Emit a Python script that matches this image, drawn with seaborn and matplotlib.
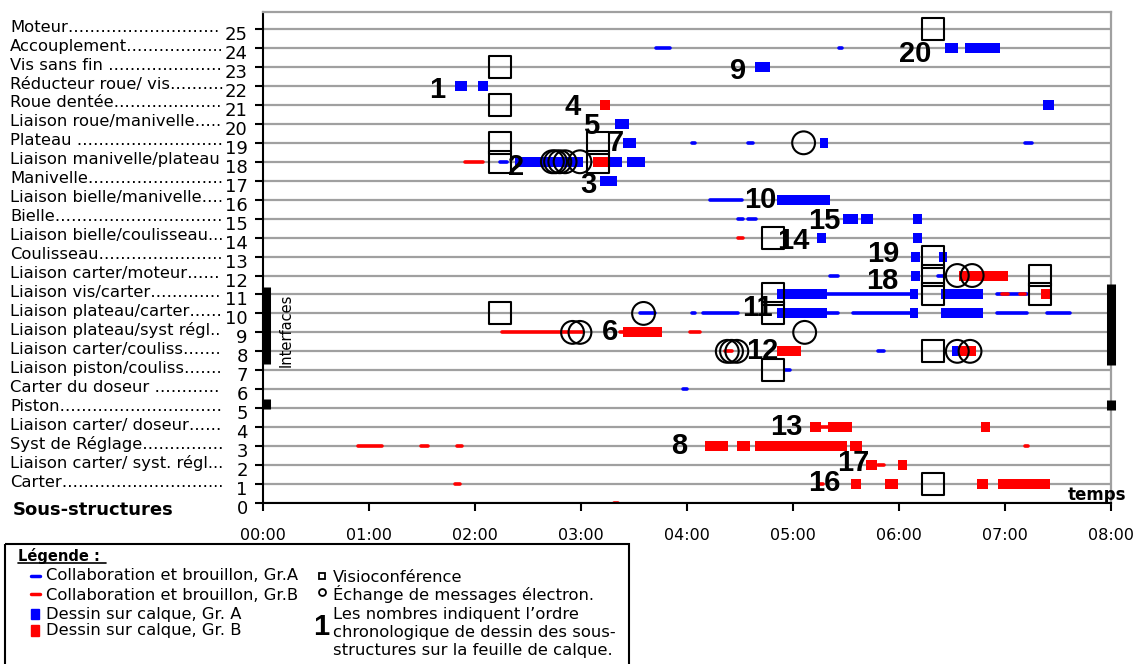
import matplotlib
matplotlib.use("Agg")
import matplotlib.pyplot as plt
import seaborn as sns
import pandas as pd
from matplotlib.patches import Rectangle
from matplotlib.transforms import blended_transform_factory, ScaledTranslation

# Sub-structures, row 1 .. 25
row_numbers = list(range(1, 26))
row_names = ["Carter", "Liaison carter/ syst. régl", "Syst de Réglage", "Liaison carter/ doseur",
             "Piston", "Carter du doseur ", "Liaison piston/couliss", "Liaison carter/couliss",
             "Liaison plateau/syst régl", "Liaison plateau/carter", "Liaison vis/carter",
             "Liaison carter/moteur", "Coulisseau", "Liaison bielle/coulisseau",
             "Bielle", "Liaison bielle/manivelle", "Manivelle", "Liaison manivelle/plateau",
             "Plateau ", "Liaison roue/manivelle", "Roue dentée", "Réducteur roue/ vis",
             "Vis sans fin ", "Accouplement", "Moteur"]

hours = [0, 1, 2, 3, 4, 5, 6, 7, 8]
hour_labels = ["00:00", "01:00", "02:00", "03:00", "04:00", "05:00", "06:00", "07:00", "08:00"]

# (row, start hour, end hour)
collab_a = [(24, 3.71, 3.84), (24, 5.43, 5.46), (19, 4.05, 4.08), (19, 4.58, 4.62),
            (19, 7.19, 7.25), (18, 2.24, 2.30), (16, 4.22, 4.52), (15, 4.48, 4.53),
            (15, 4.58, 4.65), (12, 5.35, 5.42), (12, 6.37, 6.43), (11, 5.32, 6.10),
            (11, 6.92, 7.21), (10, 3.56, 3.70), (10, 4.05, 4.08), (10, 4.15, 4.48),
            (10, 5.32, 5.42), (10, 5.57, 6.10), (10, 6.92, 7.21), (10, 7.40, 7.61),
            (8, 5.80, 5.86), (7, 4.92, 4.97), (6, 3.96, 4.00)]
collab_b = [(18, 1.91, 2.08), (14, 4.48, 4.53), (11, 6.97, 7.03), (11, 7.14, 7.19),
            (9, 2.25, 3.02), (9, 3.37, 3.41), (9, 4.03, 4.12), (8, 4.36, 4.42),
            (4, 5.26, 5.33), (3, 0.90, 1.12), (3, 1.49, 1.56), (3, 1.83, 1.88),
            (3, 7.19, 7.22), (2, 5.80, 5.86), (1, 1.81, 1.86), (1, 5.25, 5.28),
            (0, 3.31, 3.35)]
dessin_a = [(24, 6.43, 6.56), (24, 6.62, 6.95), (23, 4.64, 4.78), (22, 1.81, 1.92),
            (22, 2.03, 2.12), (21, 7.36, 7.46), (20, 3.32, 3.45), (19, 3.40, 3.52),
            (19, 5.25, 5.33), (18, 2.38, 3.02), (18, 3.27, 3.39), (18, 3.43, 3.60),
            (17, 3.18, 3.34), (16, 4.85, 5.35), (15, 5.47, 5.61), (15, 5.64, 5.75),
            (15, 6.13, 6.22), (14, 5.23, 5.31), (14, 6.13, 6.22), (13, 6.11, 6.20),
            (13, 6.38, 6.45), (12, 6.11, 6.20), (11, 4.85, 5.32), (11, 6.10, 6.18),
            (11, 6.40, 6.79), (10, 4.85, 5.32), (10, 6.10, 6.18), (10, 6.40, 6.79),
            (8, 6.50, 6.56)]
dessin_b = [(21, 3.18, 3.27), (18, 3.11, 3.25), (12, 6.57, 7.03), (11, 7.34, 7.42),
            (9, 3.40, 3.76), (8, 4.85, 5.08), (8, 6.56, 6.73), (4, 5.16, 5.26),
            (4, 5.33, 5.56), (4, 6.77, 6.86), (3, 4.17, 4.39), (3, 4.47, 4.59),
            (3, 4.64, 5.51), (3, 5.54, 5.65), (2, 5.69, 5.79), (2, 5.99, 6.08),
            (1, 5.55, 5.64), (1, 5.87, 5.99), (1, 6.74, 6.84), (1, 6.93, 7.42)]

# Visioconference (squares) and e-mail exchanges (circles): hour, row
visio_t = [2.24, 2.24, 2.24, 2.24, 2.24, 3.16, 3.16, 4.81, 4.81, 4.81, 4.81,
           6.32, 6.32, 6.32, 6.32, 6.32, 6.32, 7.33, 7.33]
visio_row = [23, 21, 19, 18, 10, 19, 18, 14, 11, 10, 7, 25, 13, 12, 11, 8, 1, 12, 11]
mail_t = [2.73, 2.76, 2.80, 2.85, 2.99, 2.92, 2.99, 3.59, 5.10, 5.11, 4.38, 4.42, 4.47,
          6.55, 6.69, 6.55, 6.67]
mail_row = [18, 18, 18, 18, 18, 9, 9, 10, 19, 9, 8, 8, 8, 12, 12, 8, 8]

# Drawing order of sub-structures on the tracing sheet
order_num = list(range(1, 21))
order_t = [1.64, 2.39, 3.07, 2.92, 3.10, 3.27, 3.33, 3.93, 4.48, 4.69,
           4.66, 4.71, 4.94, 5.00, 5.30, 5.30, 5.57, 5.84, 5.85, 6.15]
order_row = [21.8, 17.7, 16.8, 20.9, 19.9, 9.0, 19.0, 3.0, 22.8, 16.0,
             10.3, 8.0, 4.0, 13.8, 14.9, 1.05, 2.1, 11.72, 13.15, 23.7]


def to_long(segs, grp):
    recs = []
    for i, (r, t0, t1) in enumerate(segs):
        recs.append((grp, f"{grp}{i}", t0, r))
        recs.append((grp, f"{grp}{i}", t1, r))
    return recs


thin_df = pd.DataFrame(to_long(collab_a, "A") + to_long(collab_b, "B"),
                       columns=["grp", "seg", "t", "row"])
thick_df = pd.DataFrame(to_long(dessin_a, "A") + to_long(dessin_b, "B"),
                        columns=["grp", "seg", "t", "row"])
visio_df = pd.DataFrame({"t": visio_t, "row": visio_row})
mail_df = pd.DataFrame({"t": mail_t, "row": mail_row})
pal = {"A": "#0000ff", "B": "#ff0000"}

sns.set_theme(style="white")
plt.rcParams["font.family"] = ["DejaVu Sans"]
plt.rcParams.update({"text.color": "black", "xtick.color": "black",
                     "ytick.color": "black", "axes.labelcolor": "black"})

fig = plt.figure(figsize=(11.44, 6.64), dpi=100)
ax = fig.add_axes([263 / 1144, 1 - 503 / 664, 848 / 1144, 491 / 664])

sns.lineplot(data=thin_df, x="t", y="row", hue="grp", units="seg", estimator=None,
             sort=False, palette=pal, linewidth=2.6, solid_capstyle="round",
             legend=False, ax=ax, zorder=2)
sns.lineplot(data=thick_df, x="t", y="row", hue="grp", units="seg", estimator=None,
             sort=False, palette=pal, linewidth=7.2, solid_capstyle="butt",
             legend=False, ax=ax, zorder=3)
sns.scatterplot(data=visio_df, x="t", y="row", marker="s", s=250, facecolor="none",
                edgecolor="black", linewidth=1.5, ax=ax, zorder=5, legend=False)
sns.scatterplot(data=mail_df, x="t", y="row", marker="o", s=270, facecolor="none",
                edgecolor="black", linewidth=1.5, ax=ax, zorder=5, legend=False)

for n, t, r in zip(order_num, order_t, order_row):
    ax.text(t, r, str(n), fontsize=21, fontweight="bold", family="Liberation Sans",
            color="black", ha="center", va="center", zorder=6)

ax.set_xlim(0, 8)
ax.set_ylim(0, 25.9)
ax.set_xticks(hours)
ax.set_xticklabels(hour_labels, fontsize=11.5)
ax.set_yticks(range(26))
ax.set_yticklabels([str(i) for i in range(26)], fontsize=13)
ax.set_xlabel("")
ax.set_ylabel("")
ax.tick_params(axis="both", direction="out", length=6, width=1.5, color="black",
               labelcolor="black", left=True, bottom=True)
ax.tick_params(axis="x", pad=12)
ax.tick_params(axis="y", pad=5)
ax.yaxis.grid(True, color="#a0a0a0", linewidth=1.6)
ax.xaxis.grid(False)
ax.set_axisbelow(True)
for side in ["left", "bottom"]:
    ax.spines[side].set_color("black")
    ax.spines[side].set_linewidth(1.5)
for side in ["top", "right"]:
    ax.spines[side].set_color("#a0a0a0")
    ax.spines[side].set_linewidth(1.6)

shift = ScaledTranslation(0, -0.04, fig.dpi_scale_trans)
for lbl in ax.get_yticklabels():
    lbl.set_transform(lbl.get_transform() + shift)

# Interface brackets
ax.plot([0.025, 0.025], [7.33, 11.39], color="black", lw=6.5, solid_capstyle="butt", clip_on=False, zorder=7)
ax.plot([8.0, 8.0], [7.28, 11.55], color="black", lw=6.5, solid_capstyle="butt", clip_on=False, zorder=7)
ax.plot([0.025, 0.025], [4.95, 5.5], color="black", lw=6.5, solid_capstyle="butt", clip_on=False, zorder=7)
ax.plot([8.0, 8.0], [4.9, 5.45], color="black", lw=6.5, solid_capstyle="butt", clip_on=False, zorder=7)
ax.text(0.217, 9.12, "Interfaces", rotation=90, fontsize=10.5, ha="center", va="center")
ax.text(7.87, 0.42, "temps", fontsize=12, fontweight="bold", ha="center", va="center")

# Row names with dotted leaders
fig.canvas.draw()
renderer = fig.canvas.get_renderer()
name_trans = blended_transform_factory(fig.transFigure, ax.transData)
for r, name in zip(row_numbers, row_names):
    txt = ax.text(10 / 1144, r + 0.1, name, transform=name_trans, fontsize=11.8,
                  ha="left", va="center", clip_on=False)
    s = name
    while True:
        txt.set_text(s + "…")
        if txt.get_window_extent(renderer).x1 > 224:
            break
        s += "…"
    while True:
        txt.set_text(s + ".")
        if txt.get_window_extent(renderer).x1 > 224:
            break
        s += "."
    txt.set_text(s)

# Overlay in pixel coordinates for legend box and side texts
ov = fig.add_axes([0, 0, 1, 1], zorder=-1)
ov.set_xlim(0, 1144)
ov.set_ylim(664, 0)
ov.axis("off")
ov.patch.set_visible(False)

ov.text(13, 510, "Sous-structures", fontsize=13, fontweight="bold", va="center")

ov.add_patch(Rectangle((5, 544), 624, 130, fill=False, lw=1.5, edgecolor="black", clip_on=False))
ov.text(18, 556, "Légende :", fontsize=10.5, fontweight="bold", va="center")
ov.plot([18, 106], [563, 563], color="black", lw=1.2)
ov.plot([31, 40], [576, 576], color="#0000ff", lw=2.5)
ov.plot([31, 40], [594, 594], color="#ff0000", lw=2.5)
ov.add_patch(Rectangle((31, 609), 8, 10, color="#0000ff"))
ov.add_patch(Rectangle((31, 625), 8, 11, color="#ff0000"))
leg_kw = dict(fontsize=11.8, va="center")
ov.text(46, 576, "Collaboration et brouillon, Gr.A", **leg_kw)
ov.text(46, 595, "Collaboration et brouillon, Gr.B", **leg_kw)
ov.text(46, 614, "Dessin sur calque, Gr. A", **leg_kw)
ov.text(46, 631, "Dessin sur calque, Gr. B", **leg_kw)
ov.plot([322], [576], marker="s", ms=5, mfc="none", mec="black", mew=1.3)
ov.plot([322], [592], marker="o", ms=5, mfc="none", mec="black", mew=1.3)
ov.text(333, 577, "Visioconférence", **leg_kw)
ov.text(333, 594, "Échange de messages électron.", **leg_kw)
ov.text(321, 627, "1", fontsize=21, fontweight="bold", family="Liberation Sans", ha="center", va="center")
ov.text(333, 614, "Les nombres indiquent l’ordre", **leg_kw)
ov.text(333, 632, "chronologique de dessin des sous-", **leg_kw)
ov.text(333, 651, "structures sur la feuille de calque.", **leg_kw)

fig.savefig("out.png", dpi=100)
